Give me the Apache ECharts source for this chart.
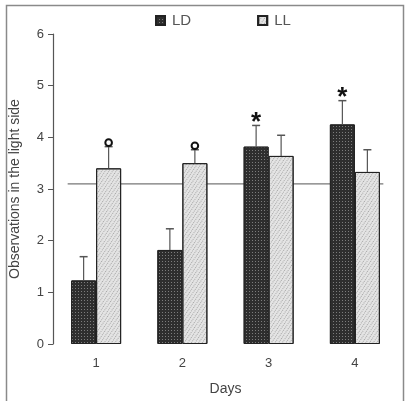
<!DOCTYPE html>
<html>
<head>
<meta charset="utf-8">
<script src="https://cdn.jsdelivr.net/npm/echarts@6/dist/echarts.min.js"></script>
<style>
  html, body { margin: 0; padding: 0; background: #fff; }
  #chart { width: 406px; height: 401px; }
</style>
</head>
<body>
<div id="chart"></div>
<script>
// data
var days = ['1', '2', '3', '4'];
var ldMean = [1.23, 1.82, 3.82, 4.25];
var ldErr = [0.46, 0.41, 0.41, 0.46];
var llMean = [3.40, 3.50, 3.64, 3.33];
var llErr = [0.42, 0.26, 0.40, 0.43];
var ldMarks = ['', '', '*', '*'];
var llMarks = ['o', 'o', '', ''];
var refLevel = 3.1;
var refSpan = [0.67, 4.33]; // in day units on the hidden value axis
var yTicks = [0, 6, 1]; // min, max, step

var BAR_W = 25;

function errSeries(name, mean, err, marks, offset) {
  return {
    name: name + ' err',
    type: 'custom',
    z: 5,
    data: mean.map(function (m, i) { return [i, m, err[i], marks[i]]; }),
    renderItem: function (params, api) {
      var idx = api.value(0);
      var v = api.value(1);
      var e = api.value(2);
      var mark = marks[params.dataIndex];
      var p0 = api.coord([idx, v]);
      var p1 = api.coord([idx, v + e]);
      var x = p0[0] + offset;
      var kids = [
        { type: 'line', shape: { x1: x, y1: p0[1], x2: x, y2: p1[1] }, style: { stroke: '#555', lineWidth: 1.2 } },
        { type: 'line', shape: { x1: x - 4, y1: p1[1], x2: x + 4, y2: p1[1] }, style: { stroke: '#555', lineWidth: 1.5 } }
      ];
      if (mark === 'o') {
        kids.push({ type: 'circle', shape: { cx: x, cy: p1[1] - 4, r: 3.3 }, style: { fill: '#fff', stroke: '#111', lineWidth: 2 } });
      } else if (mark === '*') {
        kids.push({ type: 'text', style: { x: x, y: p1[1] - 3, text: '*', fill: '#111', font: 'bold 26px "Liberation Sans", Arial', align: 'center', verticalAlign: 'middle' } });
      }
      return { type: 'group', children: kids };
    }
  };
}

var chart = echarts.init(document.getElementById('chart'));
var option = {
  animation: false,
  backgroundColor: '#fff',
  textStyle: { fontFamily: '"Liberation Sans", Arial, sans-serif' },
  graphic: [{
    type: 'rect', left: 4, top: 3, silent: true, z: -1,
    shape: { width: 397, height: 420 },
    style: { fill: 'none', stroke: '#8a8a8a', lineWidth: 1.5 }
  }],
  legend: {
    left: 150, top: 8,
    itemWidth: 9, itemHeight: 9, itemGap: 66,
    icon: 'rect',
    data: ['LD', 'LL'],
    textStyle: { color: '#555', fontSize: 15, padding: [0, 0, 0, 2] }
  },
  grid: { left: 52, right: 8, top: 34, bottom: 51 },
  xAxis: [{
    type: 'category',
    data: days,
    axisLine: { show: false },
    axisTick: { show: false },
    axisLabel: { color: '#444', fontSize: 13, margin: 13 },
    name: 'Days',
    nameLocation: 'middle',
    nameGap: 38,
    nameTextStyle: { color: '#444', fontSize: 14 }
  }, {
    type: 'value', min: 0.5, max: 4.5, show: false
  }],
  yAxis: {
    type: 'value',
    min: yTicks[0], max: yTicks[1], interval: yTicks[2],
    axisLine: { show: true, lineStyle: { color: '#555', width: 1.2 } },
    axisTick: { show: true, length: 5, lineStyle: { color: '#555' } },
    splitLine: { show: false },
    axisLabel: { color: '#444', fontSize: 13, margin: 9 },
    name: 'Observations in the light side',
    nameLocation: 'middle',
    nameGap: 31,
    nameTextStyle: { color: '#444', fontSize: 14 }
  },
  series: [{
    name: 'LD',
    type: 'bar',
    barWidth: BAR_W,
    barGap: 0,
    data: ldMean,
    itemStyle: {
      color: '#2e2e2e',
      borderColor: '#222', borderWidth: 1,
      decal: { symbol: 'rect', symbolSize: 1, color: 'rgba(190,190,190,0.55)', dashArrayX: [1, 2], dashArrayY: [1, 2], rotation: 0 }
    }
  }, {
    name: 'LL',
    type: 'bar',
    barWidth: BAR_W,
    barGap: 0,
    data: llMean,
    itemStyle: {
      color: '#e4e4e4',
      borderColor: '#222', borderWidth: 1,
      decal: { symbol: 'rect', symbolSize: 1, color: 'rgba(90,90,90,0.45)', dashArrayX: [1, 2], dashArrayY: [1, 1], rotation: 0.6 }
    }
  },
  errSeries('LD', ldMean, ldErr, ldMarks, -BAR_W / 2),
  errSeries('LL', llMean, llErr, llMarks, BAR_W / 2),
  {
    name: 'ref',
    type: 'line',
    xAxisIndex: 1,
    data: [[refSpan[0], refLevel], [refSpan[1], refLevel]],
    symbol: 'none',
    z: 1,
    lineStyle: { color: '#777', width: 1.3 }
  }]
};
chart.setOption(option);
</script>
</body>
</html>
